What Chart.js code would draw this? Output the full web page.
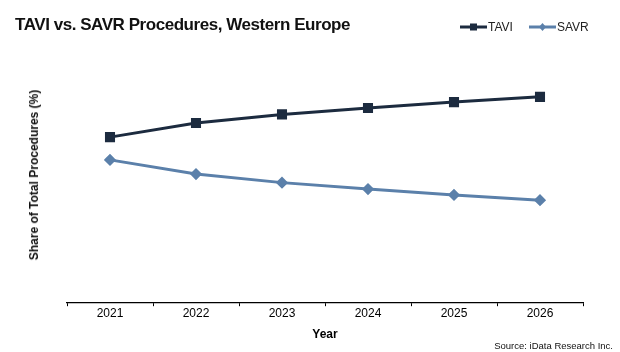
<!DOCTYPE html>
<html>
<head>
<meta charset="utf-8">
<script src="https://cdn.jsdelivr.net/npm/chart.js@4"></script>
<style>
body{margin:0;background:#fff;font-family:"Liberation Sans",Arial,sans-serif}
#wrap{position:relative;width:620px;height:352px}
#title{position:absolute;left:15px;top:15px;font-weight:bold;font-size:17px;color:#111;letter-spacing:-0.45px}
#ytitle{position:absolute;left:34px;top:175px;transform:translate(-50%,-50%) rotate(-90deg);white-space:nowrap;font-weight:bold;font-size:12px;color:#111}
#source{position:absolute;right:7px;top:340px;font-size:9.5px;color:#111}
#legend{position:absolute;left:460px;top:19px;font-size:12px;color:#222;display:flex;align-items:center;height:15px}
#legend span{display:flex;align-items:center}
#legend canvas{margin-right:1px}
</style>
</head>
<body>
<div id="wrap">
<canvas id="chart" width="620" height="352"></canvas>
<div id="title">TAVI vs. SAVR Procedures, Western Europe</div>
<div id="legend"></div>
<div id="ytitle">Share of Total Procedures (%)</div>
<div id="source">Source: iData Research Inc.</div>
</div>
<script>

const years=["2021","2022","2023","2024","2025","2026"]
const tavi=[53.7,58.3,61.1,63.2,65.1,66.8]
const savr=[46.3,41.7,38.9,36.8,34.9,33.2]

const taviColor="#1c2b3f"
const savrColor="#5b80aa"

// line+marker icon like the excel legend
function legendIcon(color,style){
const c=document.createElement("canvas")
c.width=27
c.height=10
const g=c.getContext("2d")
g.strokeStyle=color
g.lineWidth=3
g.beginPath()
g.moveTo(0,5)
g.lineTo(27,5)
g.stroke()
g.fillStyle=color
if(style=="square"){
g.fillRect(10,1.5,7,7)
}else{
g.beginPath()
g.moveTo(13.5,1)
g.lineTo(17,5)
g.lineTo(13.5,9)
g.lineTo(10,5)
g.closePath()
g.fill()
}
return c
}

const chart=new Chart(document.getElementById("chart"),{

type:"line",

data:{
labels:years,
datasets:[
{
label:"TAVI",
data:tavi,
borderColor:taviColor,
backgroundColor:taviColor,
borderWidth:3,
pointStyle:"rect",
pointRadius:5,
pointHoverRadius:5,
fill:false,
tension:0
},
{
label:"SAVR",
data:savr,
borderColor:savrColor,
backgroundColor:savrColor,
borderWidth:3,
pointStyle:"rectRot",
pointRadius:4,
pointHoverRadius:4,
fill:false,
tension:0
}
]
},

options:{
responsive:false,
animation:false,
layout:{padding:{left:67,right:37,top:44,bottom:10}},
plugins:{
legend:{display:false},
tooltip:{enabled:false}
},
scales:{
x:{
offset:true,
border:{display:true,color:"#000",width:1.2},
grid:{display:true,drawOnChartArea:false,drawTicks:true,tickLength:4,color:"#000",offset:true},
ticks:{color:"#000",font:{family:"Liberation Sans",size:12},padding:0},
title:{display:true,text:"Year",color:"#000",font:{family:"Liberation Sans",size:12,weight:"bold"},padding:{top:7,bottom:0}}
},
y:{
display:false,
min:0,
max:84
}
}
}

})

// html legend built from the datasets
const legend=document.getElementById("legend")
chart.data.datasets.forEach((ds,i)=>{
const item=document.createElement("span")
item.style.marginRight=i==0?"16px":"0"
item.appendChild(legendIcon(ds.borderColor,i==0?"square":"diamond"))
item.appendChild(document.createTextNode(ds.label))
legend.appendChild(item)
})

</script>
</body>
</html>
